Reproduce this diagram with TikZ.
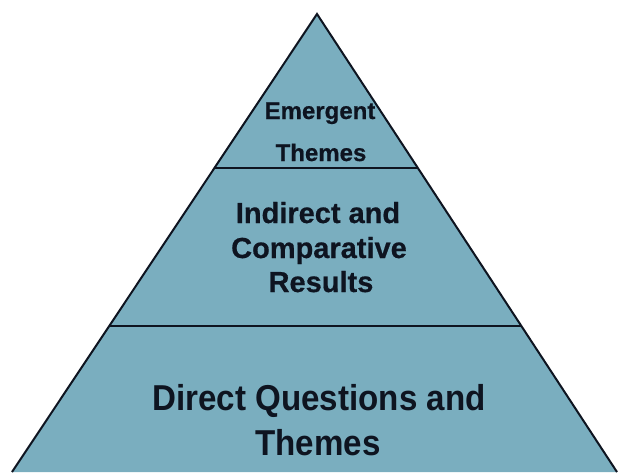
\documentclass[tikz,border=0pt]{standalone}
\usepackage{fontspec}
\usetikzlibrary{calc}
\setmainfont{Liberation Sans}
\newfontfamily\tierbold[FakeBold=0.6]{Liberation Sans Bold}
\newfontfamily\tiermed[FakeStretch=0.92]{Liberation Sans Bold}
\definecolor{tierfill}{HTML}{7AAEBF}
\definecolor{tierink}{HTML}{0E1420}
\begin{document}
\begin{tikzpicture}[x=1pt,y=-1pt,
  edge/.style={draw=tierink,line width=2pt,line join=miter},
  divider/.style={draw=tierink,line width=2.4pt},
  label/.style={anchor=base,inner sep=0pt,text=tierink}]
\useasboundingbox (0,0) rectangle (619,472);
% pyramid outline
\coordinate (apex) at (317,14);
\coordinate (bl) at (12,472);
\coordinate (br) at (617,472);
\fill[tierfill] (apex) -- (br) -- (bl) -- cycle;
\draw[edge] (bl) -- (apex) -- (br);
% tier dividers
\coordinate (d1l) at ($(apex)!0.3362!(bl)$);
\coordinate (d1r) at ($(apex)!0.3362!(br)$);
\coordinate (d2l) at ($(apex)!0.6812!(bl)$);
\coordinate (d2r) at ($(apex)!0.6812!(br)$);
\draw[divider] (d1l) -- (d1r);
\draw[divider] (d2l) -- (d2r);
% tier labels
\node[label,font=\tierbold\fontsize{24}{24}\selectfont] (t1a) at (320,119) {Emergent};
\node[label,font=\tierbold\fontsize{24}{24}\selectfont] (t1b) at (321,161) {Themes};
\node[label,font=\tierbold\fontsize{29}{29}\selectfont] (t2a) at (318,223) {Indirect and};
\node[label,font=\tierbold\fontsize{29}{29}\selectfont] (t2b) at (319,258) {Comparative};
\node[label,font=\tierbold\fontsize{29}{29}\selectfont] (t2c) at (321,292) {Results};
\node[label,font=\tiermed\fontsize{36}{36}\selectfont] (t3a) at (319,410) {Direct Questions and};
\node[label,font=\tiermed\fontsize{36}{36}\selectfont] (t3b) at (318,455) {Themes};
\end{tikzpicture}
\end{document}
